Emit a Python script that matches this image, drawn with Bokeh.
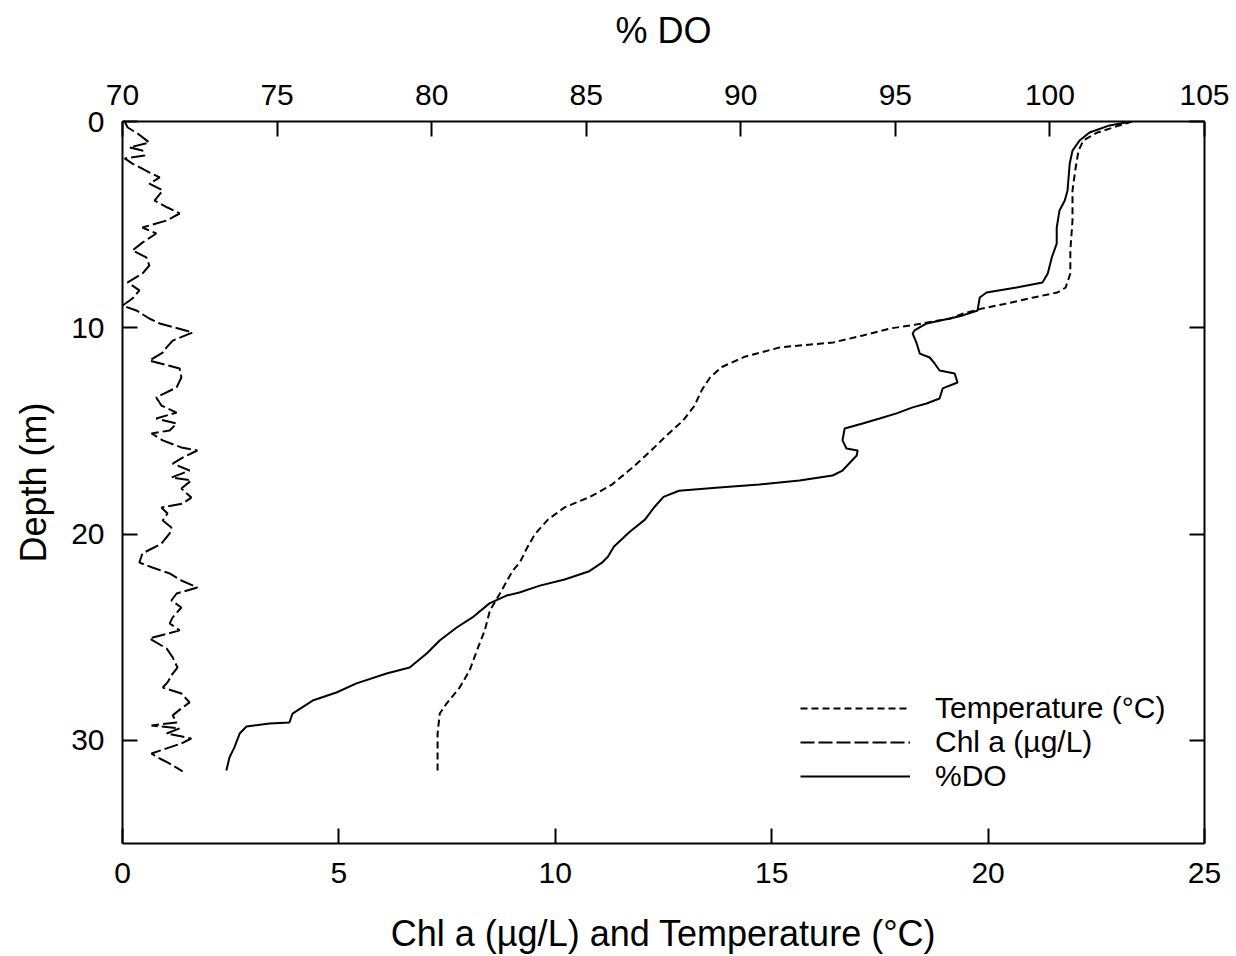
from bokeh.plotting import figure
from bokeh.models import Range1d, LinearAxis, FixedTicker, Legend, LegendItem
from bokeh.embed import file_html
from bokeh.resources import INLINE

# ---------------- data ----------------
chl_depth = [0.0, 0.29, 0.58, 1.02, 1.26, 1.41, 1.65, 1.79, 2.04, 2.47, 2.71, 3.01, 3.34, 3.83,
             4.17, 4.46, 4.80, 5.14, 5.43, 5.87, 6.25, 6.59, 6.98, 7.37, 7.80, 8.19, 8.58, 8.92,
             9.16, 9.55, 9.79, 10.23, 10.62, 10.95, 11.20, 11.59, 11.97, 12.41, 12.89, 13.38,
             13.77, 14.11, 14.40, 14.64, 14.98, 15.12, 15.46, 15.80, 15.95, 16.29, 16.58, 16.92,
             17.26, 17.40, 17.79, 18.23, 18.52, 18.71, 19.00, 19.34, 19.68, 19.97, 20.46, 20.94,
             21.38, 21.62, 21.91, 22.25, 22.59, 22.88, 23.22, 23.56, 24.04, 24.33, 24.67, 25.06,
             25.55, 25.98, 26.47, 26.76, 27.19, 27.44, 27.73, 28.16, 28.45, 28.79, 29.13, 29.28,
             29.42, 29.67, 29.91, 30.15, 30.39, 30.64, 30.88, 31.07, 31.50]
chl_value = [0.05, 0.12, 0.35, 0.62, 0.16, 0.46, 0.51, 0.05, 0.23, 0.62, 0.86, 0.62, 0.93, 0.74,
             1.04, 1.32, 1.02, 0.46, 0.78, 0.46, 0.23, 0.55, 0.62, 0.46, 0.12, 0.39, 0.23, 0.00,
             0.32, 0.62, 0.86, 1.62, 1.16, 1.02, 0.93, 0.62, 1.32, 1.36, 1.25, 0.78,
             0.90, 1.25, 0.78, 1.25, 1.09, 0.67, 0.93, 1.36, 1.73, 1.39, 1.16, 1.55,
             1.13, 1.59, 1.36, 1.59, 1.39, 0.90, 1.04, 0.93, 1.13, 1.09, 0.90, 0.46,
             0.39, 0.69, 1.09, 1.36, 1.73, 1.25, 1.13, 1.36, 1.16, 1.09, 1.32, 0.62,
             1.02, 1.16, 1.27, 1.16, 1.04, 0.93, 1.36, 1.55, 1.36, 1.16, 1.25, 0.67,
             1.32, 1.02, 1.59, 1.36, 1.02, 0.67, 0.86, 1.04, 1.39]

temp_depth = [0.0, 0.53, 0.92, 1.41, 2.28, 3.34, 4.80, 6.25, 7.37, 8.05, 8.29, 8.53, 8.82, 9.06,
              9.31, 9.55, 9.89, 10.03, 10.37, 10.71, 10.95, 11.4, 11.9, 12.4, 13.0, 13.8, 14.5,
              15.3, 16.0, 16.8, 17.6, 18.2, 18.7, 19.3, 20.0, 20.7, 21.38, 21.76, 22.88, 23.70,
              24.67, 25.64, 26.61, 27.44, 28.21, 28.70, 29.67, 31.46]
temp_value = [23.33, 22.53, 22.20, 22.09, 22.02, 21.95, 21.95, 21.90, 21.90, 21.79, 21.60, 21.05,
              20.44, 19.87, 19.43, 19.13, 18.20, 17.74, 17.11, 16.42, 15.19, 14.38, 13.85, 13.58,
              13.39, 13.21, 12.95, 12.53, 12.19, 11.77, 11.31, 10.80, 10.22, 9.83, 9.53, 9.34,
              9.18, 9.02, 8.72, 8.49, 8.37, 8.19, 8.02, 7.79, 7.49, 7.33, 7.28, 7.28]

do_depth = [0.0, 0.19, 0.53, 0.92, 1.41, 2.04, 3.34, 3.83, 4.31, 5.14, 5.92, 6.59, 7.37, 7.80,
            8.05, 8.29, 8.53, 9.16, 9.40, 9.55, 9.79, 10.13, 10.28, 10.76, 11.25, 11.44, 11.73,
            12.07, 12.22, 12.65, 12.94, 13.43, 13.67, 13.86, 14.15, 14.40, 14.64, 14.88, 15.46,
            15.85, 15.95, 16.19, 16.92, 17.16, 17.4, 17.6, 17.74, 17.9, 18.2, 18.7, 19.3, 19.9,
            20.6, 21.1, 21.4, 21.8, 22.2, 22.5, 22.83, 22.98, 23.36, 24.04, 24.53, 25.16, 25.79,
            26.47, 26.76, 27.24, 27.68, 28.07, 28.70, 29.13, 29.18, 29.33, 29.67, 30.34, 30.83,
            31.46]
do_value = [102.64, 101.93, 101.28, 100.96, 100.73, 100.64, 100.57, 100.48, 100.31, 100.22,
            100.22, 100.06, 99.93, 99.76, 98.92, 97.95, 97.73, 97.66, 97.18, 96.76, 96.01, 95.62,
            95.56, 95.69, 95.79, 96.11, 96.27, 96.43, 96.92, 97.01, 96.53, 96.43, 96.01, 95.56,
            95.04, 94.49, 93.94, 93.36, 93.29, 93.42, 93.78, 93.75, 93.29, 92.97, 91.9, 90.6,
            89.3, 88.0, 87.5, 87.2, 86.9, 86.4, 85.9, 85.7, 85.5, 85.1, 84.3, 83.5, 82.84, 82.42,
            81.87, 81.32, 80.81, 80.26, 79.84, 79.29, 78.54, 77.57, 76.92, 76.15, 75.50, 75.40,
            74.76, 74.01, 73.79, 73.62, 73.46, 73.36]

bottom_ticks = [0, 5, 10, 15, 20, 25]
top_ticks = [70, 75, 80, 85, 90, 95, 100, 105]
depth_ticks = [0, 10, 20, 30]

FONT = "Liberation Sans"

p = figure(width=1236, height=956, output_backend="svg", toolbar_location=None,
           x_range=Range1d(0, 25), y_range=Range1d(35, 0),
           x_axis_location=None, y_axis_location=None,
           min_border_left=122, min_border_right=32, min_border_top=121, min_border_bottom=113)
p.extra_x_ranges = {"do": Range1d(70, 105)}
p.outline_line_color = None
p.background_fill_color = "white"
p.border_fill_color = "white"
for g in p.grid:
    g.visible = False


def style(ax, ticks, label_size="30px"):
    ax.ticker = FixedTicker(ticks=ticks)
    ax.axis_line_width = 2
    ax.axis_line_color = "black"
    ax.major_tick_in = 15
    ax.major_tick_out = 0
    ax.major_tick_line_width = 2
    ax.major_tick_line_color = "black"
    ax.minor_tick_line_color = None
    ax.major_label_text_font = FONT
    ax.major_label_text_font_size = label_size
    ax.major_label_text_color = "black"
    ax.axis_label_text_font = FONT
    ax.axis_label_text_font_size = "36px"
    ax.axis_label_text_font_style = "normal"
    ax.axis_label_text_color = "black"


bottom = LinearAxis(axis_label="Chl a (µg/L) and Temperature (°C)")
style(bottom, bottom_ticks)
bottom.major_label_standoff = 19
bottom.axis_label_standoff = 27
p.add_layout(bottom, "below")

top = LinearAxis(x_range_name="do", axis_label="% DO")
style(top, top_ticks)
top.major_label_standoff = 17
top.axis_label_standoff = 31
p.add_layout(top, "above")

left = LinearAxis(axis_label="Depth (m)")
style(left, depth_ticks)
left.major_label_standoff = 18
left.axis_label_standoff = 14
p.add_layout(left, "left")

right = LinearAxis()
style(right, depth_ticks, label_size="1px")
right.major_label_text_color = None
right.major_label_standoff = 0
p.add_layout(right, "right")

r_temp = p.line(temp_value, temp_depth, line_color="black", line_width=2, line_dash="7 4")
r_chl = p.line(chl_value, chl_depth, line_color="black", line_width=2, line_dash="14 4")
r_do = p.line(do_value, do_depth, x_range_name="do", line_color="black", line_width=2)

legend = Legend(items=[LegendItem(label="Temperature (°C)", renderers=[r_temp]),
                       LegendItem(label="Chl a (µg/L)", renderers=[r_chl]),
                       LegendItem(label="%DO", renderers=[r_do])],
                location=(678, 50), border_line_color=None, background_fill_alpha=0,
                padding=0, margin=0, glyph_width=110, glyph_height=28, label_height=28,
                label_standoff=25, spacing=0, label_text_font=FONT,
                label_text_font_size="30px", label_text_color="black")
p.add_layout(legend)

open("out.html", "w").write(file_html(p, INLINE))
